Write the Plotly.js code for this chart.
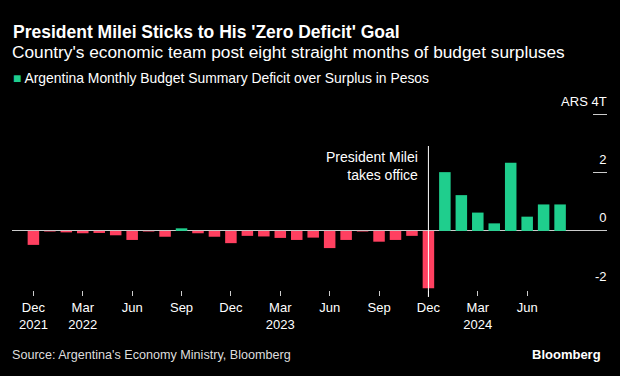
<!DOCTYPE html>
<html>
<head>
<meta charset="utf-8">
<script src="https://cdn.plot.ly/plotly-3.0.1.min.js"></script>
<style>html,body{margin:0;padding:0;background:#000;}#chart{width:620px;height:376px;}</style>
</head>
<body>
<div id="chart"></div>
<script>
// Data (trillions of ARS)
const months = ["2021-12",
  "2022-01","2022-02","2022-03","2022-04","2022-05","2022-06","2022-07","2022-08","2022-09","2022-10","2022-11","2022-12",
  "2023-01","2023-02","2023-03","2023-04","2023-05","2023-06","2023-07","2023-08","2023-09","2023-10","2023-11","2023-12",
  "2024-01","2024-02","2024-03","2024-04","2024-05","2024-06","2024-07","2024-08"];
const values = [-0.48,
  -0.02,-0.05,-0.08,-0.07,-0.15,-0.31,-0.02,-0.20,0.09,-0.08,-0.20,-0.42,
  -0.17,-0.19,-0.24,-0.31,-0.23,-0.59,-0.31,-0.02,-0.37,-0.31,-0.17,-1.97,
  2.02,1.23,0.63,0.26,2.34,0.49,0.91,0.91];
const xTickVals = ["2021-12","2022-03","2022-06","2022-09","2022-12","2023-03","2023-06","2023-09","2023-12","2024-03","2024-06"];
const xTickText = ["Dec<br>2021","Mar<br>2022","Jun","Sep","Dec","Mar<br>2023","Jun","Sep","Dec","Mar<br>2024","Jun"];
const yTickVals = [-2, 0, 2, 4];
const yTickText = ["-2", "0", "2", "ARS 4T"];
const eventMonth = "2023-12";
const eventLabel = "President Milei<br>takes office";
const seriesName = "Argentina Monthly Budget Summary Deficit over Surplus in Pesos";

const RED = "#ff4060", GREEN = "#1fce8d";
const FONT = "Liberation Sans, Arial, sans-serif";

// helpers converting pixel positions in the 620x376 frame to paper coords
const L = 12, R = 13, T = 86, B = 86, W = 620, H = 376;
const PW = W - L - R, PH = H - T - B;
const px = x => (x - L) / PW;
const py = y => (H - B - y) / PH;

const trace = {
  type: "bar",
  x: months,
  y: values,
  name: seriesName,
  marker: {color: values.map(v => v >= 0 ? GREEN : RED), line: {width: 0}},
  hoverinfo: "x+y",
  showlegend: false
};

const layout = {
  width: W, height: H,
  paper_bgcolor: "#000", plot_bgcolor: "#000",
  margin: {l: L, r: R, t: T, b: B},
  font: {family: FONT, color: "#fff", size: 13},
  title: {
    text: "<b>President Milei Sticks to His 'Zero Deficit' Goal</b>",
    font: {family: FONT, size: 17.5, color: "#fff"},
    x: 13/W, xref: "container", xanchor: "left",
    y: 1 - 32/H, yref: "container", yanchor: "middle"
  },
  bargap: 0.3,
  xaxis: {
    type: "category",
    range: [-1.3, 34.85],
    tickmode: "array", tickvals: xTickVals, ticktext: xTickText,
    ticks: "outside", ticklen: 5, tickcolor: "#ccc", tickwidth: 1,
    showgrid: false, zeroline: false, showline: false,
    tickfont: {family: FONT, size: 13, color: "#fff"}
  },
  yaxis: {
    side: "right",
    range: [-2.03, 4.98],
    tickmode: "array", tickvals: yTickVals, ticktext: yTickText,
    ticks: "inside", ticklen: 14, tickcolor: "#ccc", tickwidth: 1,
    ticklabelposition: "inside", ticklabelshift: -13, ticklabelstandoff: -14,
    showgrid: false, zeroline: true, zerolinecolor: "#ccc", zerolinewidth: 1,
    showline: false,
    tickfont: {family: FONT, size: 13, color: "#fff"}
  },
  shapes: [{
    type: "line", xref: "x", yref: "paper",
    x0: eventMonth, x1: eventMonth, y0: py(297), y1: py(146),
    line: {color: "#fff", width: 1}
  }],
  annotations: [
    {text: "Country's economic team post eight straight months of budget surpluses",
     xref: "paper", yref: "paper", x: px(10), y: py(52),
     xanchor: "left", yanchor: "middle", showarrow: false, align: "left",
     font: {family: FONT, size: 17.3, color: "#fff"}},
    {text: eventLabel, xref: "x", yref: "paper", x: eventMonth, y: py(165.5),
     xanchor: "right", yanchor: "middle", xshift: -8, align: "right", showarrow: false,
     font: {family: FONT, size: 14, color: "#fff"}},
    {text: "<span style='color:" + GREEN + "'>■</span> " + seriesName,
     xref: "paper", yref: "paper", x: px(11), xanchor: "left",
     y: py(78), yanchor: "middle", showarrow: false, align: "left",
     font: {family: FONT, size: 13.9, color: "#fff"}},
    {text: "Source: Argentina's Economy Ministry, Bloomberg",
     xref: "paper", yref: "paper", x: px(10), y: py(355),
     xanchor: "left", yanchor: "middle", showarrow: false,
     font: {family: FONT, size: 12.6, color: "#ddd"}},
    {text: "<b>Bloomberg</b>",
     xref: "paper", yref: "paper", x: px(603), y: py(354),
     xanchor: "right", yanchor: "middle", showarrow: false,
     font: {family: FONT, size: 13, color: "#fff"}}
  ]
};

Plotly.newPlot("chart", [trace], layout, {displayModeBar: false, staticPlot: true});
</script>
</body>
</html>
